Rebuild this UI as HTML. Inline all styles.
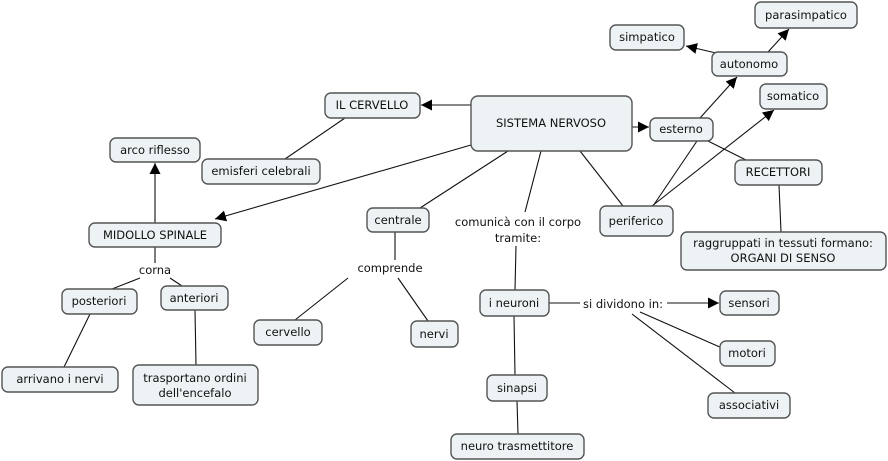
<!DOCTYPE html>
<html><head><meta charset="utf-8"><style>
body{margin:0;background:#fff;width:888px;height:461px;overflow:hidden}
svg{display:block}
rect{fill:#edf2f5;stroke:#555;stroke-width:1.4}
line{stroke:#111;stroke-width:1.1}
text{font-family:"DejaVu Sans","Liberation Sans",sans-serif;font-size:11.5px;fill:#111;text-anchor:middle;dominant-baseline:central}
</style></head><body>
<svg width="888" height="461" viewBox="0 0 888 461">
<defs><marker id="a" viewBox="0 0 10 10" refX="10" refY="5" markerWidth="11" markerHeight="11" markerUnits="userSpaceOnUse" orient="auto"><path d="M0,0L10,5L0,10z" fill="#000"/></marker></defs>
<!-- lines -->
<line x1="471" y1="105" x2="421" y2="105" marker-end="url(#a)"/>
<line x1="471" y1="145" x2="215" y2="219" marker-end="url(#a)"/>
<line x1="345" y1="118" x2="285" y2="159"/>
<line x1="155" y1="223" x2="155" y2="163" marker-end="url(#a)"/>
<line x1="508" y1="151" x2="420" y2="208"/>
<line x1="541" y1="151" x2="525" y2="212"/>
<line x1="516" y1="246" x2="515" y2="290"/>
<line x1="580" y1="151" x2="623" y2="206"/>
<line x1="632" y1="127" x2="649" y2="127" marker-end="url(#a)"/>
<line x1="700" y1="118" x2="737" y2="77" marker-end="url(#a)"/>
<line x1="652" y1="206" x2="774" y2="110" marker-end="url(#a)"/>
<line x1="697" y1="141" x2="653" y2="206"/>
<line x1="708" y1="141" x2="746" y2="160"/>
<line x1="716" y1="53" x2="686" y2="46" marker-end="url(#a)"/>
<line x1="768" y1="52" x2="789" y2="29" marker-end="url(#a)"/>
<line x1="779" y1="185" x2="781" y2="232"/>
<line x1="395" y1="232" x2="395" y2="260"/>
<line x1="348" y1="278" x2="295" y2="320"/>
<line x1="398" y1="278" x2="428" y2="321"/>
<line x1="549" y1="303" x2="580" y2="303"/>
<line x1="667" y1="303" x2="719" y2="303" marker-end="url(#a)"/>
<line x1="640" y1="312" x2="722" y2="348"/>
<line x1="632" y1="314" x2="735" y2="393"/>
<line x1="514" y1="316" x2="515" y2="375"/>
<line x1="517" y1="401" x2="518" y2="434"/>
<line x1="155" y1="247" x2="155" y2="263"/>
<line x1="140" y1="278" x2="112" y2="289"/>
<line x1="170" y1="278" x2="182" y2="286"/>
<line x1="90" y1="314" x2="64" y2="367"/>
<line x1="195" y1="310" x2="196" y2="365"/>
<!-- nodes -->
<rect x="471" y="96" width="161" height="55" rx="7"/><text x="551" y="123">SISTEMA NERVOSO</text>
<rect x="325" y="93" width="95" height="25" rx="6"/><text x="372" y="105">IL CERVELLO</text>
<rect x="110" y="138" width="90" height="24" rx="6"/><text x="155" y="150">arco riflesso</text>
<rect x="202" y="159" width="118" height="25" rx="6"/><text x="261" y="171">emisferi celebrali</text>
<rect x="89" y="223" width="132" height="24" rx="6"/><text x="155" y="235">MIDOLLO SPINALE</text>
<rect x="650" y="118" width="63" height="23" rx="6"/><text x="681" y="129">esterno</text>
<rect x="712" y="52" width="75" height="24" rx="6"/><text x="749" y="64">autonomo</text>
<rect x="610" y="25" width="74" height="25" rx="6"/><text x="647" y="37">simpatico</text>
<rect x="755" y="2" width="102" height="26" rx="6"/><text x="806" y="15">parasimpatico</text>
<rect x="760" y="84" width="67" height="25" rx="6"/><text x="793" y="96">somatico</text>
<rect x="735" y="160" width="87" height="25" rx="6"/><text x="778" y="172">RECETTORI</text>
<rect x="600" y="206" width="73" height="30" rx="6"/><text x="636" y="221">periferico</text>
<rect x="681" y="232" width="205" height="38" rx="6"/><text x="783" y="243">raggruppati in tessuti formano:</text><text x="783" y="258">ORGANI DI SENSO</text>
<rect x="367" y="208" width="62" height="24" rx="6"/><text x="398" y="220">centrale</text>
<text x="518" y="222">comunicà con il corpo</text><text x="518" y="238">tramite:</text>
<text x="390" y="268">comprende</text>
<rect x="254" y="320" width="68" height="25" rx="6"/><text x="288" y="332">cervello</text>
<rect x="411" y="321" width="47" height="26" rx="6"/><text x="434" y="334">nervi</text>
<rect x="480" y="290" width="69" height="26" rx="6"/><text x="514" y="303">i neuroni</text>
<text x="623" y="304">si dividono in:</text>
<rect x="720" y="291" width="59" height="24" rx="6"/><text x="749" y="303">sensori</text>
<rect x="720" y="341" width="55" height="25" rx="6"/><text x="747" y="353">motori</text>
<rect x="708" y="393" width="82" height="25" rx="6"/><text x="749" y="405">associativi</text>
<rect x="487" y="375" width="60" height="26" rx="6"/><text x="517" y="388">sinapsi</text>
<rect x="451" y="434" width="133" height="25" rx="6"/><text x="517" y="446">neuro trasmettitore</text>
<text x="155" y="270">corna</text>
<rect x="62" y="289" width="75" height="25" rx="6"/><text x="99" y="301">posteriori</text>
<rect x="161" y="286" width="67" height="24" rx="6"/><text x="194" y="298">anteriori</text>
<rect x="2" y="367" width="116" height="25" rx="6"/><text x="60" y="379">arrivano i nervi</text>
<rect x="133" y="365" width="125" height="40" rx="6"/><text x="195" y="378">trasportano ordini</text><text x="195" y="393">dell'encefalo</text>
</svg>
</body></html>
